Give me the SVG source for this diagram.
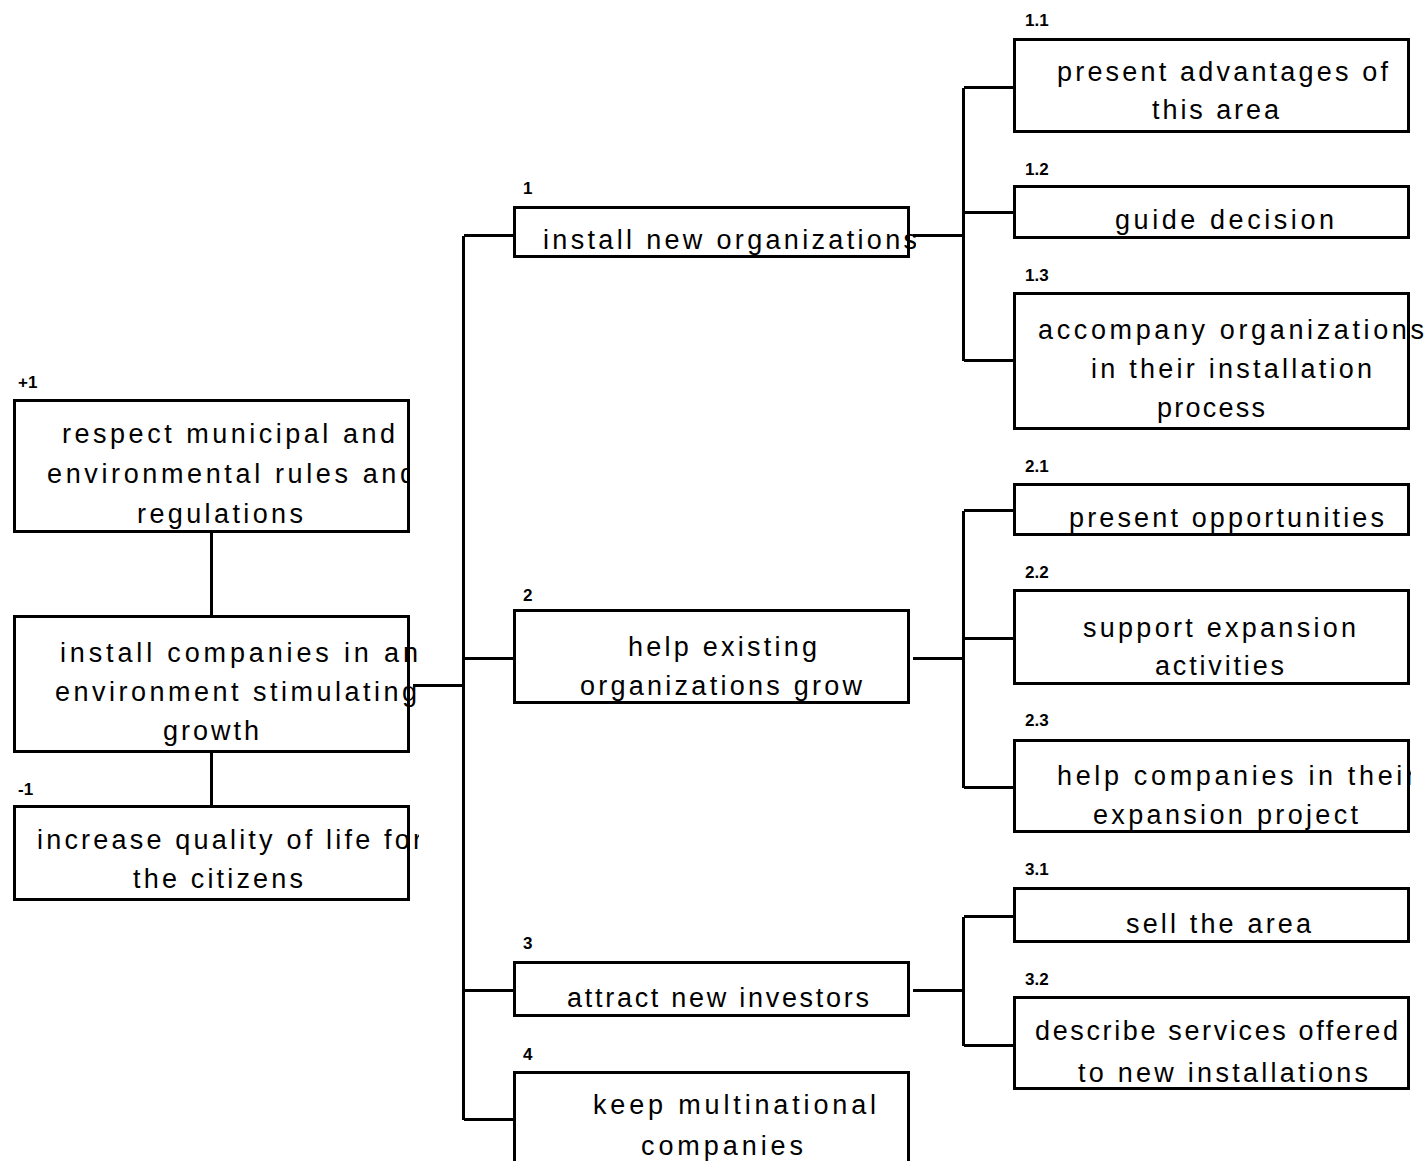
<svg xmlns="http://www.w3.org/2000/svg" width="1427" height="1161" viewBox="0 0 1427 1161">
  <style>
    .box { fill: #fff; stroke: #000; stroke-width: 3; shape-rendering: crispEdges; }
    .wire { fill: none; stroke: #000; stroke-width: 3; shape-rendering: crispEdges; }
    .t { font-family: "Liberation Sans", Arial, sans-serif; font-size: 27px; fill: #000; }
    .lbl { font-family: "Liberation Sans", Arial, sans-serif; font-size: 17px; font-weight: bold; fill: #000; }
  </style>
  <defs>
    <clipPath id="clipA"><rect x="0" y="390" width="410" height="150"/></clipPath>
    <clipPath id="clipB"><rect x="0" y="610" width="417" height="150"/></clipPath>
    <clipPath id="clipC"><rect x="0" y="800" width="419" height="110"/></clipPath>
    <clipPath id="clipN1"><rect x="500" y="200" width="416" height="70"/></clipPath>
    <clipPath id="clip13"><rect x="1000" y="285" width="424" height="150"/></clipPath>
    <clipPath id="clip23"><rect x="1000" y="735" width="411" height="105"/></clipPath>
  </defs>
  <rect width="1427" height="1161" fill="#fff"/>

  <!-- connectors -->
  <g id="connectors">
    <path class="wire" d="M211.5 532 V616 M211.5 752 V806"/>
    <path class="wire" d="M413 685.5 H463.5 M463.5 235.5 V1119.5 M463.5 235.5 H515 M463.5 658.5 H515 M463.5 990.5 H515 M463.5 1119.5 H515"/>
    <path class="wire" d="M913 235.5 H963.5 M963.5 87.5 V360.5 M963.5 87.5 H1015 M963.5 212.5 H1015 M963.5 360.5 H1015"/>
    <path class="wire" d="M913 658.5 H963.5 M963.5 510.5 V787.5 M963.5 510.5 H1015 M963.5 638.5 H1015 M963.5 787.5 H1015"/>
    <path class="wire" d="M913 990.5 H963.5 M963.5 916.5 V1045.5 M963.5 916.5 H1015 M963.5 1045.5 H1015"/>
  </g>

  <!-- upper goal -->
  <g id="node-plus1">
    <text class="lbl" x="18" y="388">+1</text>
    <rect class="box" x="14.5" y="400.5" width="394" height="131"/>
    <g clip-path="url(#clipA)">
      <text class="t" x="62" y="443" textLength="333">respect municipal and</text>
      <text class="t" x="47" y="483" textLength="368">environmental rules and</text>
      <text class="t" x="137" y="523" textLength="166">regulations</text>
    </g>
  </g>

  <!-- main goal -->
  <g id="node-main">
    <rect class="box" x="14.5" y="616.5" width="394" height="135"/>
    <g clip-path="url(#clipB)">
      <text class="t" x="60" y="662" textLength="358">install companies in an</text>
      <text class="t" x="55" y="701" textLength="362">environment stimulating</text>
      <text class="t" x="163" y="740" textLength="96">growth</text>
    </g>
  </g>

  <!-- lower goal -->
  <g id="node-minus1">
    <text class="lbl" x="18" y="795">-1</text>
    <rect class="box" x="14.5" y="806.5" width="394" height="93"/>
    <g clip-path="url(#clipC)">
      <text class="t" x="37" y="849" textLength="385">increase quality of life for</text>
      <text class="t" x="133" y="888" textLength="170">the citizens</text>
    </g>
  </g>

  <!-- sub-goals -->
  <g id="node-1">
    <text class="lbl" x="523" y="194">1</text>
    <rect class="box" x="514.5" y="207.5" width="394" height="49"/>
    <g clip-path="url(#clipN1)">
      <text class="t" x="543" y="249" textLength="374">install new organizations</text>
    </g>
  </g>

  <g id="node-2">
    <text class="lbl" x="523" y="601">2</text>
    <rect class="box" x="514.5" y="610.5" width="394" height="92"/>
    <text class="t" x="628" y="656" textLength="189">help existing</text>
    <text class="t" x="580" y="695" textLength="282">organizations grow</text>
  </g>

  <g id="node-3">
    <text class="lbl" x="523" y="949">3</text>
    <rect class="box" x="514.5" y="962.5" width="394" height="53"/>
    <text class="t" x="567" y="1007" textLength="302">attract new investors</text>
  </g>

  <g id="node-4">
    <text class="lbl" x="523" y="1060">4</text>
    <rect class="box" x="514.5" y="1072.5" width="394" height="100"/>
    <text class="t" x="593" y="1114" textLength="283">keep multinational</text>
    <text class="t" x="641" y="1155" textLength="162">companies</text>
  </g>

  <!-- actions under 1 -->
  <g id="node-1-1">
    <text class="lbl" x="1025" y="26">1.1</text>
    <rect class="box" x="1014.5" y="39.5" width="394" height="92"/>
    <text class="t" x="1057" y="81" textLength="331">present advantages of</text>
    <text class="t" x="1152" y="119" textLength="127">this area</text>
  </g>

  <g id="node-1-2">
    <text class="lbl" x="1025" y="175">1.2</text>
    <rect class="box" x="1014.5" y="186.5" width="394" height="51"/>
    <text class="t" x="1115" y="229" textLength="219">guide decision</text>
  </g>

  <g id="node-1-3">
    <text class="lbl" x="1025" y="281">1.3</text>
    <rect class="box" x="1014.5" y="293.5" width="394" height="135"/>
    <g clip-path="url(#clip13)">
      <text class="t" x="1038" y="339" textLength="386">accompany organizations</text>
    </g>
    <text class="t" x="1091" y="378" textLength="281">in their installation</text>
    <text class="t" x="1157" y="417" textLength="108">process</text>
  </g>

  <!-- actions under 2 -->
  <g id="node-2-1">
    <text class="lbl" x="1025" y="472">2.1</text>
    <rect class="box" x="1014.5" y="484.5" width="394" height="50"/>
    <text class="t" x="1069" y="527" textLength="315">present opportunities</text>
  </g>

  <g id="node-2-2">
    <text class="lbl" x="1025" y="578">2.2</text>
    <rect class="box" x="1014.5" y="590.5" width="394" height="93"/>
    <text class="t" x="1083" y="637" textLength="273">support expansion</text>
    <text class="t" x="1155" y="675" textLength="129">activities</text>
  </g>

  <g id="node-2-3">
    <text class="lbl" x="1025" y="726">2.3</text>
    <rect class="box" x="1014.5" y="740.5" width="394" height="91"/>
    <g clip-path="url(#clip23)">
      <text class="t" x="1057" y="785" textLength="358">help companies in their</text>
    </g>
    <text class="t" x="1093" y="824" textLength="265">expansion project</text>
  </g>

  <!-- actions under 3 -->
  <g id="node-3-1">
    <text class="lbl" x="1025" y="875">3.1</text>
    <rect class="box" x="1014.5" y="888.5" width="394" height="53"/>
    <text class="t" x="1126" y="933" textLength="185">sell the area</text>
  </g>

  <g id="node-3-2">
    <text class="lbl" x="1025" y="985">3.2</text>
    <rect class="box" x="1014.5" y="997.5" width="394" height="91"/>
    <text class="t" x="1035" y="1040" textLength="363">describe services offered</text>
    <text class="t" x="1078" y="1082" textLength="290">to new installations</text>
  </g>
</svg>
